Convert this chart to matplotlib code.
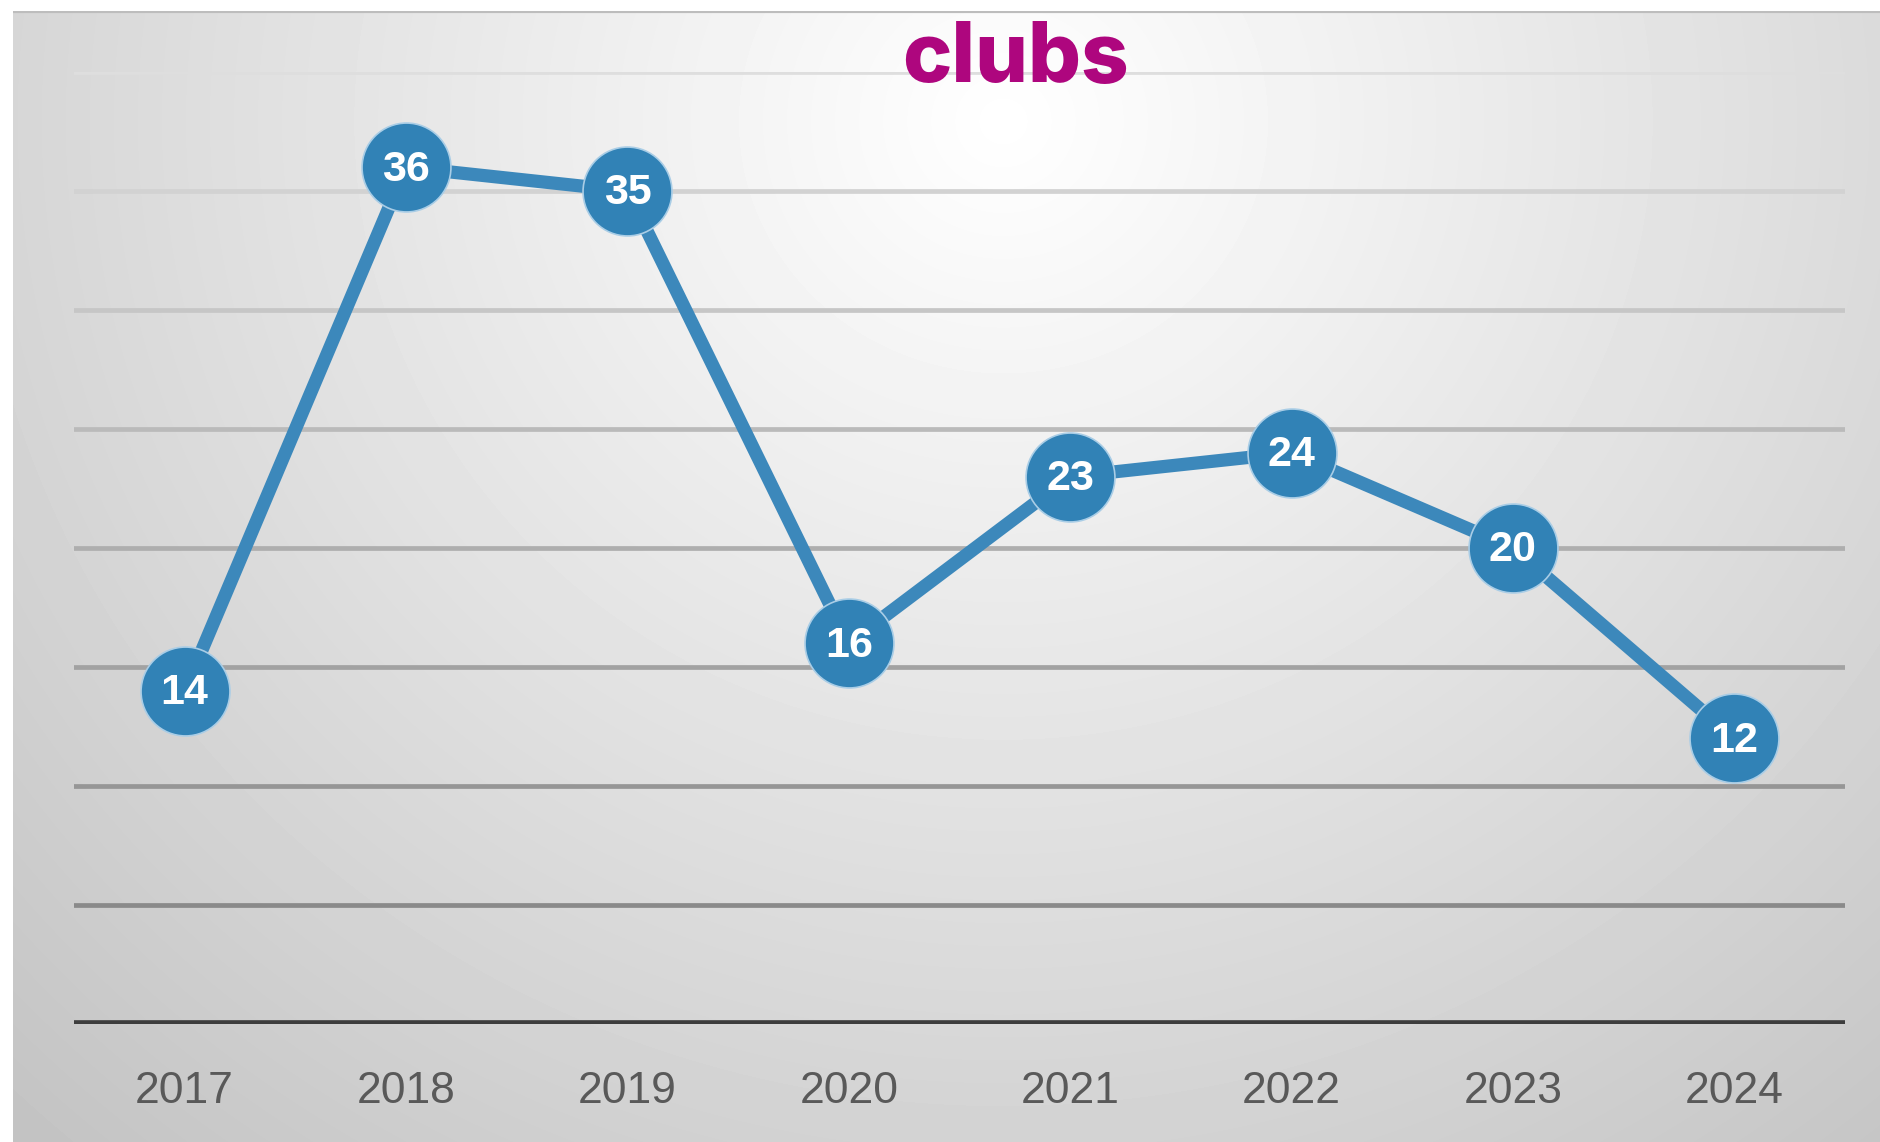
import numpy as np
import matplotlib.pyplot as plt

# dati
years = ['2017', '2018', '2019', '2020', '2021', '2022', '2023', '2024']
clubs = [14, 36, 35, 16, 23, 24, 20, 12]
grid_values = [5, 10, 15, 20, 25, 30, 35, 40]
title = 'clubs'

W, H = 1881, 1142
fig = plt.figure(figsize=(W / 100, H / 100), dpi=100)

# sfondo con gradiente radiale (bianco in alto al centro, grigio ai bordi)
bg = fig.add_axes([13 / W, 0, 1 - 13 / W, 1 - 11 / H])
yy, xx = np.mgrid[0:H - 11, 0:W - 13]
dist = np.hypot(xx - 990, (yy - 110) * 1.05)
shade = np.clip(255 - 58 * dist / 1400, 195, 255) / 255
bg.imshow(shade, cmap='gray', vmin=0, vmax=1, aspect='auto',
          extent=[0, 1, 0, 1], interpolation='bilinear')
bg.axhline(1, color='#bdbdbd', lw=3)
bg.set_axis_off()

ax = fig.add_axes([74 / W, 1 - 1024 / H, (1845 - 74) / W, (1024 - 72) / H])
ax.set_facecolor('none')
x = np.arange(len(years))

# linee della griglia, piu chiare in alto e piu scure in basso
for v in grid_values:
    g = 0.87 - 0.33 * (40 - v) / 35
    ax.axhline(v, color=(g, g, g), lw=3.4, zorder=1)
ax.axhline(0, color='#3d3d3d', lw=5.5, zorder=2)

ax.plot(x, clubs, color='#3c88bb', lw=9.5, zorder=3,
        marker='o', markersize=64, markerfacecolor='#3182b6',
        markeredgecolor='#a9cde6', markeredgewidth=1.2)
for xi, v in zip(x, clubs):
    ax.text(xi, v - 0.1, str(v), ha='center', va='center', color='white',
            fontsize=31, fontweight='bold', family='Liberation Sans', zorder=4)

ax.set_xlim(-0.5, len(years) - 0.5)
ax.set_ylim(0, 40)
ax.set_xticks(x)
ax.set_xticklabels(years, family='Liberation Sans', fontsize=32, color='#595959')
ax.tick_params(axis='x', length=0, pad=34)
ax.set_yticks([])
for s in ax.spines.values():
    s.set_visible(False)

fig.text(1016 / W, 1 - 82 / H, title, ha='center', va='baseline',
         color='#ae067e', fontsize=60, fontweight='heavy',
         family=['Inter', 'Lato', 'DejaVu Sans'])

fig.savefig('out.png', dpi=100)
